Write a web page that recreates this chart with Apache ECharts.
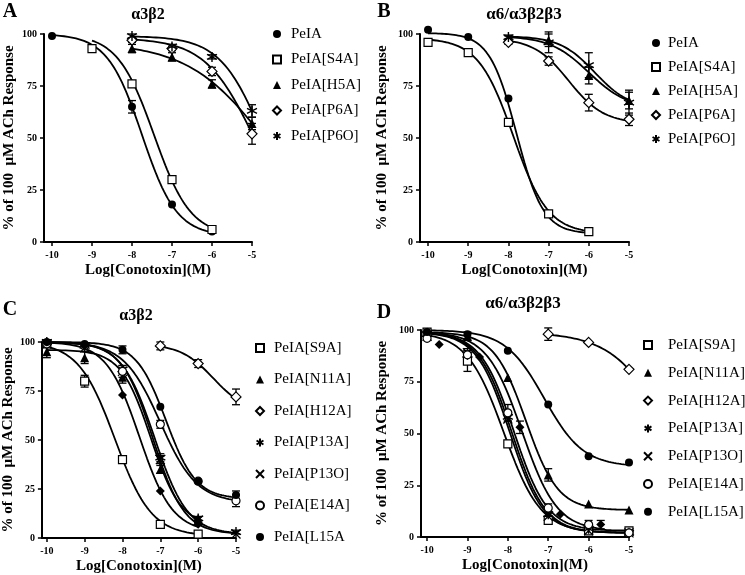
<!DOCTYPE html>
<html>
<head>
<meta charset="utf-8">
<title>PeIA analogues</title>
<script src="https://cdn.jsdelivr.net/npm/echarts@6/dist/echarts.min.js"></script>
</head>
<body style="margin:0;background:#fff">
<div id="main" style="width:745px;height:575px;"></div>
<script>
// log[conotoxin] concentrations and axis ticks
var logConc = [-10, -9, -8, -7, -6, -5];
var xTicks = [-10, -9, -8, -7, -6, -5];
var yTicks = [0, 25, 50, 75, 100];

// ---- panel A : a3b2 ----
var namesA = ['PeIA', 'PeIA[S4A]', 'PeIA[H5A]', 'PeIA[P6A]', 'PeIA[P6O]'];
var A_PeIA = [99, 93, 65, 18, 5, null];
var A_S4A  = [null, 93, 76, 30, 6, null];
var A_H5A  = [null, null, 93, 89, 76, 57];
var A_P6A  = [null, null, 97, 93, 82, 52];
var A_P6O  = [null, null, 99, 94, 89, 63];
var A_PeIA_err = [0, 0, 3, 0, 0, 0];
var A_S4A_err  = [0, 0, 0, 0, 0, 0];
var A_H5A_err  = [0, 0, 2, 2, 2, 3];
var A_P6A_err  = [0, 0, 1, 1, 2, 5];
var A_P6O_err  = [0, 0, 1, 1, 1, 3];
// fitted curve parameters (top, bottom, logIC50, hill slope)
var A_top    = [100, 100, 96, 98, 99];
var A_bottom = [3, 3, 0, 0, 0];
var A_logIC50 = [-7.75, -7.45, -4.62, -4.92, -4.70];
var A_slope  = [1, 0.95, 0.44, 0.7, 0.8];

// ---- panel B : a6/a3b2b3 ----
var namesB = ['PeIA', 'PeIA[S4A]', 'PeIA[H5A]', 'PeIA[P6A]', 'PeIA[P6O]'];
var B_PeIA = [102, 98.5, 69, 13.5, 5, null];
var B_S4A  = [96, 91, 57.5, 13.5, 5, null];
var B_H5A  = [null, null, 98, 97, 80, 68];
var B_P6A  = [null, null, 96, 87, 67, 59];
var B_P6O  = [null, null, 98.5, 96, 85, 67];
var B_PeIA_err = [0, 0, 0, 0, 0, 0];
var B_S4A_err  = [0, 0, 0, 0, 0, 0];
var B_H5A_err  = [0, 0, 1, 3, 4, 4];
var B_P6A_err  = [0, 0, 1, 2, 4, 3];
var B_P6O_err  = [0, 0, 1, 5, 6, 6];
var B_top    = [100.5, 98, 99, 98, 99];
var B_bottom = [4, 4, 64, 57, 64];
var B_logIC50 = [-7.8, -7.88, -6.0, -6.5, -5.85];
var B_slope  = [1.3, 1, 0.9, 1, 1];

// ---- panel C : a3b2 ----
var namesC = ['PeIA[S9A]', 'PeIA[N11A]', 'PeIA[H12A]', 'PeIA[P13A]', 'PeIA[P13O]', 'PeIA[E14A]', 'PeIA[L15A', 'PeIA (C)'];
var C_S9A  = [99, 80, 40, 7, 2, null];
var C_N11A = [95, 92, 82, 35, 10, null];
var C_H12A = [null, null, null, 98, 89, 72];
var C_P13A = [100, 98, 86, 41, 10, 3];
var C_P13O = [99, 97, 85, 40, 9, 2];
var C_E14A = [99, 98, 85, 58, 29, 19];
var C_L15A = [100, 99, 96, 67, 29, 22];
var C_dia  = [100, 98, 73, 24, 7, null];
var C_S9A_err  = [0, 3, 0, 0, 0, 0];
var C_N11A_err = [3, 3, 3, 2, 0, 0];
var C_H12A_err = [0, 0, 0, 2, 2, 4];
var C_P13A_err = [0, 0, 2, 2, 1, 1];
var C_P13O_err = [0, 0, 3, 2, 0, 0];
var C_E14A_err = [0, 0, 0, 2, 0, 3];
var C_L15A_err = [0, 0, 2, 0, 0, 2];
var C_dia_err  = [0, 0, 0, 0, 0, 0];
var C_top    = [100, 96, 99, 100, 100, 100, 100, 100];
var C_bottom = [1, 6, 64, 2, 2, 18, 20, 3];
var C_logIC50 = [-8.2, -7.25, -5.6, -7.15, -7.2, -7.0, -6.85, -7.55];
var C_slope  = [0.9, 1.1, 1, 1, 1.05, 0.9, 1.1, 1];

// ---- panel D : a6/a3b2b3 ----
var namesD = ['PeIA[S9A]', 'PeIA[N11A]', 'PeIA[H12A]', 'PeIA[P13A]', 'PeIA[P13O]', 'PeIA[E14A]', 'PeIA[L15A]', 'PeIA (D)'];
var D_diaConc = [-9.7, -8.7, -7.7, -6.7, -5.7];
var D_S9A  = [99, 85, 45, 8, 3, 3];
var D_N11A = [99, 97, 77, 30, 16, 13];
var D_H12A = [null, null, null, 98, 94, 81];
var D_P13A = [98, 88, 58, 11, 4, 2];
var D_P13O = [97, 89, 57, 10, 3, 2];
var D_E14A = [96, 88, 60, 14, 6, 2];
var D_L15A = [99, 98, 90, 64, 39, 36];
var D_dia  = [93, 87, 53, 11, 6];
var D_S9A_err  = [0, 5, 0, 0, 0, 0];
var D_N11A_err = [0, 2, 0, 3, 0, 0];
var D_H12A_err = [0, 0, 0, 3, 0, 0];
var D_P13A_err = [0, 2, 2, 2, 0, 0];
var D_P13O_err = [0, 0, 0, 0, 0, 0];
var D_E14A_err = [0, 3, 4, 2, 2, 0];
var D_L15A_err = [0, 0, 0, 0, 0, 0];
var D_dia_err  = [0, 0, 3, 0, 2];
var D_top    = [99, 99, 99, 99, 99, 99, 100, 99];
var D_bottom = [2, 13, 0, 2, 2, 3, 34, 3];
var D_logIC50 = [-8.1, -7.55, -3.95, -7.9, -7.95, -7.85, -7.1, -7.65];
var D_slope  = [0.95, 1.1, 0.62, 1.05, 1.05, 1.05, 0.9, 1];

// marker look per construct
var markerOf = {
  'PeIA': 'dot', 'PeIA[L15A]': 'dot', 'PeIA[L15A': 'dot',
  'PeIA[S4A]': 'square', 'PeIA[S9A]': 'square',
  'PeIA[H5A]': 'tri', 'PeIA[N11A]': 'tri',
  'PeIA[P6A]': 'dmd', 'PeIA[H12A]': 'dmd',
  'PeIA[P6O]': 'star', 'PeIA[P13A]': 'star',
  'PeIA[P13O]': 'cross', 'PeIA[E14A]': 'ring',
  'PeIA (C)': 'fdmd', 'PeIA (D)': 'fdmd'
};
var markers = {
  dot:    {symbol: 'circle', size: 8, fill: '#000', bw: 0},
  ring:   {symbol: 'circle', size: 8, fill: '#fff', bw: 1.2},
  square: {symbol: 'rect', size: 8, fill: '#fff', bw: 1.2},
  tri:    {symbol: 'triangle', size: 9, fill: '#000', bw: 0},
  dmd:    {symbol: 'diamond', size: 10, fill: '#fff', bw: 1.2},
  fdmd:   {symbol: 'diamond', size: 9, fill: '#000', bw: 0},
  star:   {symbol: 'path://M0,-10L0,10M-8.66,-5L8.66,5M-8.66,5L8.66,-5', size: 10, fill: '#000', bw: 1.4},
  cross:  {symbol: 'path://M-7,-7L7,7M-7,7L7,-7', size: 9, fill: '#000', bw: 1.3}
};

var serif = '"Liberation Serif", "Times New Roman", serif';
var yName = '% of 100  \u03bcM ACh Response';
var xName = 'Log[Conotoxin](M)';

var panels = [
  {names: namesA, vals: [A_PeIA, A_S4A, A_H5A, A_P6A, A_P6O],
   errs: [A_PeIA_err, A_S4A_err, A_H5A_err, A_P6A_err, A_P6O_err],
   top: A_top, bottom: A_bottom, mid: A_logIC50, slope: A_slope, legend: namesA,
   grid: {left: 44, top: 34, width: 208, height: 208}, xmin: -10.2, yGap: 27,
   leg: {left: 272, top: 26, gap: 9.5, pad: 5}},
  {names: namesB, vals: [B_PeIA, B_S4A, B_H5A, B_P6A, B_P6O],
   errs: [B_PeIA_err, B_S4A_err, B_H5A_err, B_P6A_err, B_P6O_err],
   top: B_top, bottom: B_bottom, mid: B_logIC50, slope: B_slope, legend: namesB,
   grid: {left: 420, top: 34, width: 209, height: 208}, xmin: -10.2, yGap: 30,
   leg: {left: 651, top: 35, gap: 8, pad: 3}},
  {names: namesC, vals: [C_S9A, C_N11A, C_H12A, C_P13A, C_P13O, C_E14A, C_L15A, C_dia],
   errs: [C_S9A_err, C_N11A_err, C_H12A_err, C_P13A_err, C_P13O_err, C_E14A_err, C_L15A_err, C_dia_err],
   top: C_top, bottom: C_bottom, mid: C_logIC50, slope: C_slope, legend: namesC.slice(0, 7),
   grid: {left: 41, top: 342, width: 195, height: 197}, xmin: -10.13, yGap: 24,
   leg: {left: 255, top: 340, gap: 15.5, pad: 5}},
  {names: namesD, vals: [D_S9A, D_N11A, D_H12A, D_P13A, D_P13O, D_E14A, D_L15A, D_dia],
   errs: [D_S9A_err, D_N11A_err, D_H12A_err, D_P13A_err, D_P13O_err, D_E14A_err, D_L15A_err, D_dia_err],
   xs: {7: D_diaConc},
   top: D_top, bottom: D_bottom, mid: D_logIC50, slope: D_slope, legend: namesD.slice(0, 7),
   grid: {left: 421, top: 330, width: 208, height: 207}, xmin: -10.15, yGap: 31,
   leg: {left: 643, top: 337, gap: 11.8, pad: 11}}
];

function hill(top, bottom, mid, slope, x) {
  return bottom + (top - bottom) / (1 + Math.pow(10, (x - mid) * slope));
}

function renderErr(params, api) {
  var x = api.value(0);
  var a = api.coord([x, api.value(2)]);
  var b = api.coord([x, api.value(1)]);
  var w = 4;
  var st = {stroke: '#000', lineWidth: 1.3};
  return {type: 'group', children: [
    {type: 'line', shape: {x1: a[0], y1: a[1], x2: b[0], y2: b[1]}, style: st},
    {type: 'line', shape: {x1: a[0] - w, y1: a[1], x2: a[0] + w, y2: a[1]}, style: st},
    {type: 'line', shape: {x1: b[0] - w, y1: b[1], x2: b[0] + w, y2: b[1]}, style: st}
  ]};
}

var grids = [], xAxes = [], yAxes = [], legends = [], series = [];
var axisFont = {color: '#000', fontFamily: serif, fontWeight: 'bold', fontSize: 10};
var nameFont = {color: '#000', fontFamily: serif, fontWeight: 'bold', fontSize: 15};

panels.forEach(function (p, i) {
  grids.push(p.grid);
  xAxes.push({
    gridIndex: i, type: 'value', min: p.xmin, max: -5,
    axisLine: {onZero: false, lineStyle: {color: '#000', width: 2}},
    axisTick: {customValues: xTicks, length: 4, lineStyle: {color: '#000', width: 1.5}},
    axisLabel: Object.assign({customValues: xTicks, margin: 8}, axisFont),
    splitLine: {show: false},
    name: xName, nameLocation: 'middle', nameGap: 21, nameTextStyle: nameFont
  });
  yAxes.push({
    gridIndex: i, type: 'value', min: 0, max: 100, interval: 25,
    axisLine: {show: true, lineStyle: {color: '#000', width: 2}},
    axisTick: {show: true, length: 4, lineStyle: {color: '#000', width: 1.5}},
    axisLabel: Object.assign({margin: 7}, axisFont),
    splitLine: {show: false},
    name: yName, nameLocation: 'middle', nameGap: p.yGap, nameTextStyle: nameFont
  });
  legends.push({
    data: p.legend, orient: 'vertical', left: p.leg.left, top: p.leg.top, padding: 0,
    itemGap: p.leg.gap, itemWidth: 8, itemHeight: 8, selectedMode: false,
    textStyle: {fontFamily: serif, fontSize: 15, color: '#000', lineHeight: 16, padding: [0, 0, 0, p.leg.pad]}
  });

  p.names.forEach(function (name, j) {
    var xs = (p.xs && p.xs[j]) || logConc;
    var pts = [], errs = [];
    p.vals[j].forEach(function (v, k) {
      if (v == null) return;
      pts.push([xs[k], v]);
      var e = p.errs[j][k];
      if (e) errs.push([xs[k], v - e, v + e]);
    });
    var x0 = pts[0][0], x1 = pts[pts.length - 1][0];
    var curve = [];
    for (var s = 0; s <= 80; s++) {
      var x = x0 + (x1 - x0) * s / 80;
      curve.push([x, hill(p.top[j], p.bottom[j], p.mid[j], p.slope[j], x)]);
    }
    series.push({
      name: name + ' fit', type: 'line', xAxisIndex: i, yAxisIndex: i,
      data: curve, showSymbol: false, silent: true, clip: false, z: 2,
      lineStyle: {color: '#000', width: 1.8}
    });
    if (errs.length) {
      series.push({
        type: 'custom', xAxisIndex: i, yAxisIndex: i, data: errs,
        renderItem: renderErr, encode: {x: 0, y: [1, 2]}, silent: true, clip: false, z: 3
      });
    }
    var m = markers[markerOf[name]];
    series.push({
      name: name, type: 'scatter', xAxisIndex: i, yAxisIndex: i, data: pts,
      symbol: m.symbol, symbolSize: m.size, clip: false, z: 4,
      itemStyle: {color: m.fill, borderColor: '#000', borderWidth: m.bw, opacity: 1}
    });
  });
});

var bold = function (size) { return 'bold ' + size + 'px ' + serif; };
var labels = [
  ['A', 10, 12, 20], ['B', 384, 12, 20], ['C', 10, 310, 20], ['D', 384, 313, 20],
  ['\u03b13\u03b22', 148, 15, 16], ['\u03b16/\u03b13\u03b22\u03b23', 524, 15, 17],
  ['\u03b13\u03b22', 136, 316, 16], ['\u03b16/\u03b13\u03b22\u03b23', 523, 304, 17]
];

var myChart = echarts.init(document.getElementById('main'));
myChart.setOption({
  backgroundColor: '#fff',
  animation: false,
  grid: grids,
  xAxis: xAxes,
  yAxis: yAxes,
  legend: legends,
  series: series,
  graphic: labels.map(function (t) {
    return {type: 'text', x: t[1], y: t[2],
      style: {text: t[0], font: bold(t[3]), fill: '#000', align: 'center', verticalAlign: 'middle'}};
  })
});
</script>
</body>
</html>
